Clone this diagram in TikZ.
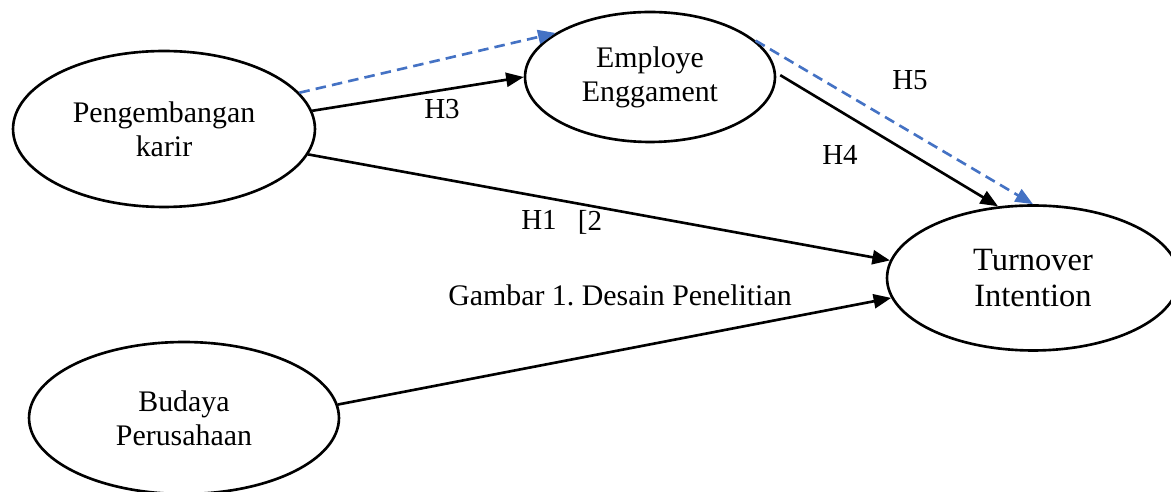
\documentclass[tikz,border=0pt]{standalone}
\usepackage{fontspec}
\setmainfont{Liberation Serif}
\usepackage{tikz}
\usetikzlibrary{arrows.meta,positioning,shapes.geometric}
\definecolor{dashblue}{RGB}{68,114,196}
\frenchspacing

\begin{document}
\begin{tikzpicture}[
  x=0.02cm,y=-0.02cm,
  var/.style={draw,ellipse,line width=1.5pt,inner sep=0pt,align=center,font=\fontsize{17}{19.5}\selectfont},
  arrow/.style={-{Triangle[length=10pt,width=8pt]},line width=1.5pt},
  mediate/.style={-{Triangle[length=10pt,width=8pt]},line width=1.5pt,dash pattern=on 6pt off 3.5pt,dashblue},
  hyp/.style={font=\fontsize{16.5}{20}\selectfont}
]
\useasboundingbox (0,0) rectangle (1171,492);
\node[var,minimum width=6.04cm,minimum height=3.12cm] (karir) at (164,129) {Pengembangan\\karir};
\node[var,minimum width=5.0cm,minimum height=2.6cm] (engage) at (650,77) {Employe\\Enggament};
\node[var,minimum width=5.84cm,minimum height=2.9cm,font=\fontsize{18.5}{21}\selectfont] (turnover) at (1033,278) {Turnover\\Intention};
\node[var,minimum width=6.2cm,minimum height=3.04cm] (budaya) at (184,418) {Budaya\\Perusahaan};
\draw[mediate] (karir.15) -- (engage.155);
\draw[arrow] (karir.7) -- (engage.180);
\draw[arrow] (karir.-10) -- (turnover.173);
\draw[arrow] (budaya.5) -- (turnover.188);
\draw[arrow,shorten <=2.8pt] (engage.2) -- (turnover.116);
\draw[mediate] (engage.19) -- (turnover.north);
\node[hyp] (h3) at (442,109) {H3};
\node[hyp] (h4) at (840,155) {H4};
\node[hyp] (h5) at (910,80) {H5};
\node[hyp] (h1) at (539,220) {H1};
\node[hyp] (h2) at (590,222) {[2};
\node[hyp,font=\fontsize{17}{20}\selectfont] (caption) at (620,295) {Gambar 1. Desain Penelitian};
\end{tikzpicture}
\end{document}
